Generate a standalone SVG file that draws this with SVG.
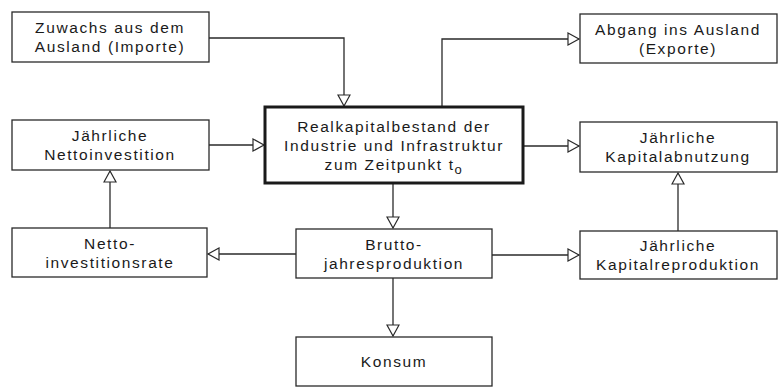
<svg xmlns="http://www.w3.org/2000/svg" width="782" height="388" viewBox="0 0 782 388">
<style>
.box{fill:#fff;stroke:#2a2a2a;stroke-width:1.3}
.main{fill:#fff;stroke:#1a1a1a;stroke-width:3}
text{font-family:"Liberation Sans",Arial,sans-serif;font-size:15.5px;fill:#1a1a1a;text-anchor:middle;letter-spacing:1.6px}
.c{fill:none;stroke:#2a2a2a;stroke-width:1.3}
</style>
<defs>
<marker id="ah" viewBox="0 0 14 14" refX="12" refY="7" markerWidth="14" markerHeight="14" markerUnits="userSpaceOnUse" orient="auto">
<path d="M1,1 L12,7 L1,13 Z" fill="#fff" stroke="#2a2a2a" stroke-width="1.2"/>
</marker>
</defs>
<rect width="782" height="388" fill="#fff"/>
<g id="connectors">
<path class="c" d="M209,38 H344 V106" marker-end="url(#ah)"/>
<path class="c" d="M442,107 V39 H579" marker-end="url(#ah)"/>
<path class="c" d="M209,145 H264" marker-end="url(#ah)"/>
<path class="c" d="M523,146 H579" marker-end="url(#ah)"/>
<path class="c" d="M393,183 V228" marker-end="url(#ah)"/>
<path class="c" d="M296,254 H208" marker-end="url(#ah)"/>
<path class="c" d="M492,255 H579" marker-end="url(#ah)"/>
<path class="c" d="M393,278 V336" marker-end="url(#ah)"/>
<path class="c" d="M110,228 V171" marker-end="url(#ah)"/>
<path class="c" d="M678,231 V173" marker-end="url(#ah)"/>
</g>
<g id="zuwachs">
<rect class="box" x="12" y="12" width="197" height="50"/>
<text x="110" y="33">Zuwachs aus dem</text>
<text x="110" y="52">Ausland (Importe)</text>
</g>
<g id="abgang">
<rect class="box" x="580" y="14" width="197" height="49"/>
<text x="678" y="35">Abgang ins Ausland</text>
<text x="678" y="54">(Exporte)</text>
</g>
<g id="nettoinvestition">
<rect class="box" x="12" y="120" width="197" height="50"/>
<text x="110" y="141">Jährliche</text>
<text x="110" y="160">Nettoinvestition</text>
</g>
<g id="realkapital">
<rect class="main" x="265" y="107" width="258" height="76"/>
<text x="394" y="132">Realkapitalbestand der</text>
<text x="394" y="151">Industrie und Infrastruktur</text>
<text x="394" y="170">zum Zeitpunkt t<tspan font-size="13" dy="4">o</tspan></text>
</g>
<g id="kapitalabnutzung">
<rect class="box" x="580" y="122" width="197" height="50"/>
<text x="678" y="143">Jährliche</text>
<text x="678" y="162">Kapitalabnutzung</text>
</g>
<g id="nettorate">
<rect class="box" x="12" y="228" width="195" height="49"/>
<text x="110" y="249">Netto-</text>
<text x="110" y="268">investitionsrate</text>
</g>
<g id="brutto">
<rect class="box" x="296" y="229" width="196" height="49"/>
<text x="394" y="250">Brutto-</text>
<text x="394" y="269">jahresproduktion</text>
</g>
<g id="kapitalreproduktion">
<rect class="box" x="580" y="231" width="197" height="48"/>
<text x="678" y="251">Jährliche</text>
<text x="678" y="270">Kapitalreproduktion</text>
</g>
<g id="konsum">
<rect class="box" x="296" y="337" width="196" height="49"/>
<text x="394" y="367">Konsum</text>
</g>
</svg>
